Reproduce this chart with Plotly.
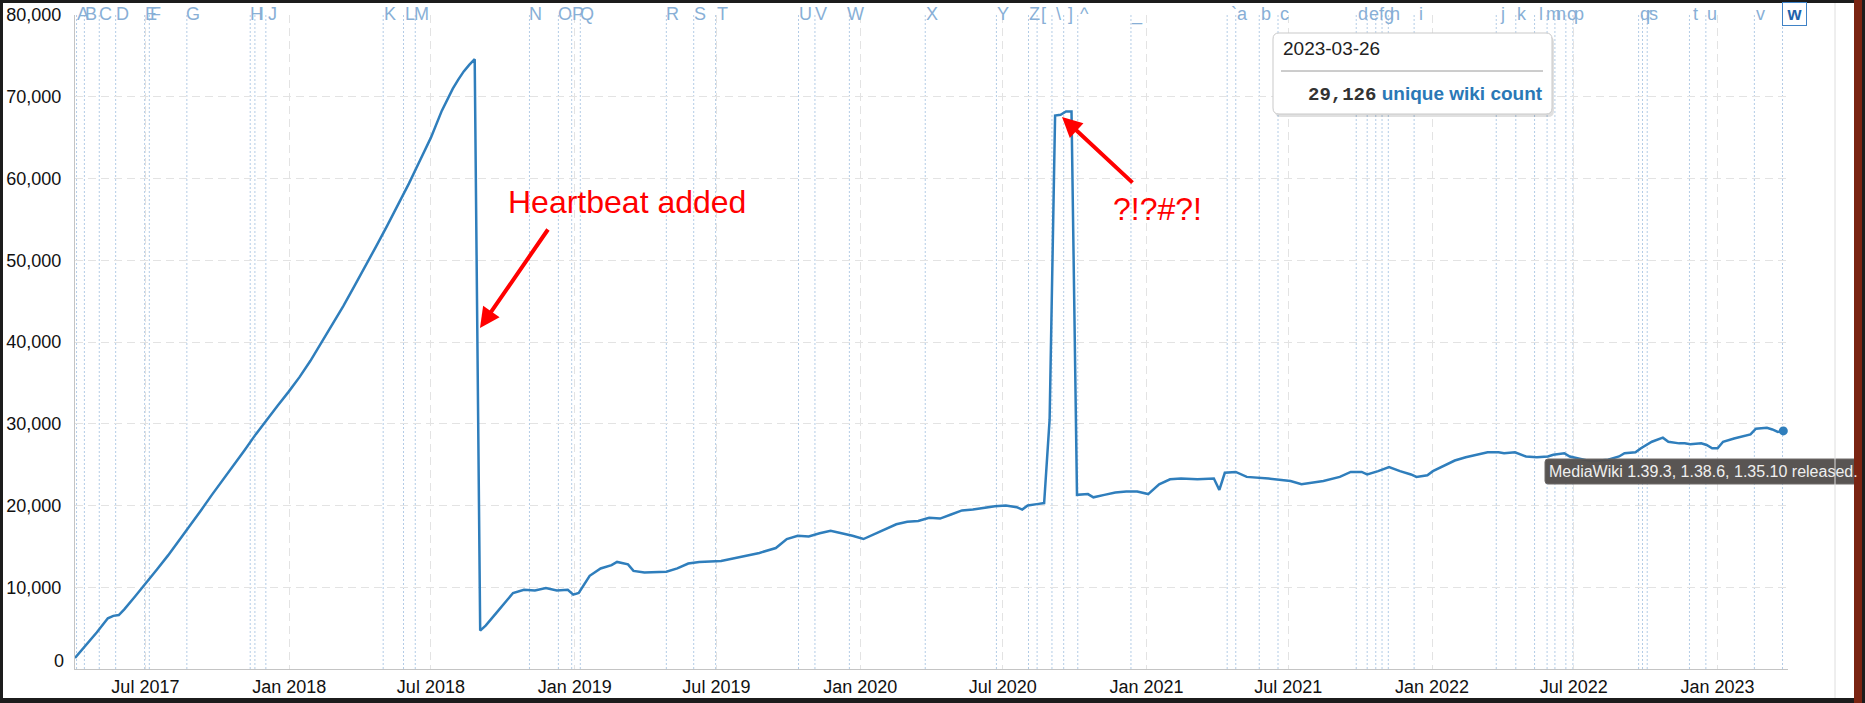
import plotly.graph_objects as go

# weekly unique wiki count
dates = [
    "2017-04-02", "2017-04-16", "2017-04-30", "2017-05-14", "2017-05-21", "2017-05-28",
    "2017-06-04", "2017-06-18", "2017-07-02", "2017-07-16", "2017-07-30", "2017-08-13",
    "2017-08-27", "2017-09-10", "2017-09-24", "2017-10-08", "2017-10-22", "2017-11-05",
    "2017-11-19", "2017-12-03", "2017-12-17", "2017-12-31", "2018-01-14", "2018-01-28",
    "2018-02-11", "2018-02-25", "2018-03-11", "2018-03-25", "2018-04-08", "2018-04-22",
    "2018-05-06", "2018-05-20", "2018-06-03", "2018-06-17", "2018-07-01", "2018-07-15",
    "2018-07-29", "2018-08-05", "2018-08-12", "2018-08-19", "2018-08-26",
    "2018-09-02", "2018-09-09", "2018-09-23", "2018-10-07", "2018-10-14", "2018-10-28",
    "2018-11-11", "2018-11-25", "2018-12-09", "2018-12-23", "2018-12-30", "2019-01-06",
    "2019-01-20", "2019-02-03", "2019-02-17", "2019-02-24", "2019-03-10", "2019-03-17",
    "2019-03-31", "2019-04-28", "2019-05-12", "2019-05-26", "2019-06-09", "2019-07-07",
    "2019-07-28", "2019-08-25", "2019-09-15", "2019-09-29", "2019-10-13", "2019-10-27",
    "2019-11-10", "2019-11-24", "2019-12-08", "2019-12-22", "2020-01-05", "2020-01-19",
    "2020-02-02", "2020-02-16", "2020-03-01", "2020-03-15", "2020-03-29", "2020-04-12",
    "2020-04-26", "2020-05-10", "2020-05-24", "2020-06-07", "2020-06-21", "2020-07-05",
    "2020-07-19", "2020-07-26", "2020-08-02", "2020-08-16", "2020-08-23", "2020-08-30",
    "2020-09-06", "2020-09-13", "2020-09-20", "2020-09-27", "2020-10-04", "2020-10-18",
    "2020-10-25", "2020-11-08", "2020-11-22", "2020-12-06", "2020-12-20", "2021-01-03",
    "2021-01-17", "2021-01-31", "2021-02-14", "2021-03-07", "2021-03-28", "2021-04-04",
    "2021-04-11", "2021-04-25", "2021-05-09", "2021-06-06", "2021-07-04", "2021-07-18",
    "2021-08-15", "2021-09-05", "2021-09-19", "2021-10-03", "2021-10-10", "2021-10-24",
    "2021-11-07", "2021-11-21", "2021-12-05", "2021-12-12", "2021-12-26", "2022-01-02",
    "2022-01-16", "2022-01-30", "2022-02-13", "2022-02-27", "2022-03-13", "2022-03-27",
    "2022-04-03", "2022-04-17", "2022-05-01", "2022-05-15", "2022-05-29", "2022-06-05",
    "2022-06-19", "2022-06-26", "2022-07-10", "2022-07-24", "2022-08-14", "2022-08-28",
    "2022-09-04", "2022-09-18", "2022-09-25", "2022-10-02", "2022-10-09", "2022-10-23",
    "2022-10-30", "2022-11-13", "2022-11-20", "2022-11-27", "2022-12-11", "2022-12-18",
    "2022-12-25", "2023-01-01", "2023-01-08", "2023-01-22", "2023-02-05", "2023-02-12",
    "2023-02-19", "2023-03-05", "2023-03-12", "2023-03-19", "2023-03-26",
]
wikis = [
    1350, 2900, 4500, 6200, 6500, 6600,
    7300, 8900, 10500, 12200, 13900, 15700,
    17500, 19400, 21300, 23100, 24900, 26800,
    28700, 30500, 32200, 33900, 35700, 37700,
    39900, 42100, 44400, 46800, 49200, 51700,
    54200, 56800, 59400, 62200, 65000, 68300,
    71000, 72100, 73100, 73900, 74600,
    4700, 5300, 6900, 8500, 9300, 9700,
    9600, 9900, 9600, 9700, 9100, 9300,
    11400, 12300, 12700, 13100, 12800, 12000,
    11800, 11900, 12300, 12900, 13100, 13200,
    13600, 14200, 14800, 15900, 16300, 16200,
    16600, 16900, 16600, 16300, 15900, 16500,
    17200, 17700, 18000, 18100, 18500, 18400,
    18900, 19400, 19500, 19700, 19900, 20000,
    19800, 19500, 20000, 20200, 20300, 30500,
    67700, 67800, 68200, 68200, 21300, 21400,
    21000, 21300, 21600, 21700, 21700, 21400,
    22600, 23200, 23300, 23200, 23300, 21900,
    24000, 24100, 23500, 23300, 23000, 22600,
    23000, 23500, 24100, 24100, 23800, 24200,
    24700, 24200, 23800, 23500, 23700, 24200,
    24900, 25500, 25900, 26200, 26500, 26500,
    26400, 26500, 26000, 25900, 26000, 26200,
    26400, 26000, 25700, 25400, 25600, 26000,
    26400, 26500, 27000, 27400, 27800, 28300,
    27800, 27600, 27600, 27500, 27600, 27400,
    27000, 27000, 27800, 28200, 28500, 28700,
    29400, 29500, 29300, 29000, 29126,
]

# release annotations along the top
note_letters = list("ABCDEFGHIJKLMNOPQRSTUVWXYZ[\\]^_`abcdefghijklmnopqrstuvw")
note_dates = [
    "2017-04-04", "2017-04-14", "2017-05-03", "2017-05-24", "2017-06-30", "2017-07-06",
    "2017-08-23", "2017-11-12", "2017-11-18", "2017-12-02", "2018-05-01", "2018-05-27",
    "2018-06-11", "2018-11-04", "2018-12-11", "2018-12-28", "2019-01-08", "2019-04-28",
    "2019-06-02", "2019-06-30", "2019-10-14", "2019-11-04", "2019-12-18", "2020-03-24",
    "2020-06-23", "2020-08-03", "2020-08-14", "2020-09-02", "2020-09-17", "2020-10-05",
    "2020-12-12", "2021-04-14", "2021-04-25", "2021-05-25", "2021-06-18", "2021-09-26",
    "2021-10-10", "2021-10-21", "2021-10-29", "2021-11-06", "2021-12-09", "2022-03-24",
    "2022-04-18", "2022-05-12", "2022-05-28", "2022-06-07", "2022-06-21", "2022-06-30",
    "2022-09-22", "2022-09-27", "2022-10-03", "2022-11-26", "2022-12-17", "2023-02-17",
    "2023-03-25",
]

y_ticks = [10000, 20000, 30000, 40000, 50000, 60000, 70000, 80000]

FONT = "Liberation Sans, Arial, Helvetica, sans-serif"
LINE_BLUE = "#2f7ebc"

W, H = 1865, 703
L, R, T, B = 75, 77, 15, 34
PW = W - L - R
PH = H - T - B


# pixel -> paper helpers for the screenshot decorations
def xp(px):
    return (px - L) / PW


def yp(py):
    return (H - B - py) / PH


def rounded(x0, y0, x1, y1, r):
    return (f"M{xp(x0 + r)},{yp(y0)} L{xp(x1 - r)},{yp(y0)} Q{xp(x1)},{yp(y0)} {xp(x1)},{yp(y0 + r)} "
            f"L{xp(x1)},{yp(y1 - r)} Q{xp(x1)},{yp(y1)} {xp(x1 - r)},{yp(y1)} "
            f"L{xp(x0 + r)},{yp(y1)} Q{xp(x0)},{yp(y1)} {xp(x0)},{yp(y1 - r)} "
            f"L{xp(x0)},{yp(y0 + r)} Q{xp(x0)},{yp(y0)} {xp(x0 + r)},{yp(y0)} Z")


fig = go.Figure()
fig.add_trace(go.Scatter(x=dates, y=wikis, mode="lines",
                         line=dict(color=LINE_BLUE, width=2.5), hoverinfo="skip"))
fig.add_trace(go.Scatter(x=[dates[-1]], y=[wikis[-1]], mode="markers",
                         marker=dict(color=LINE_BLUE, size=9), hoverinfo="skip"))

shapes = []
annotations = []

# dotted annotation lines + letters
for d, letter in zip(note_dates, note_letters):
    shapes.append(dict(type="line", xref="x", yref="paper", x0=d, x1=d, y0=0, y1=1,
                       line=dict(color="#b3cce6", width=1, dash="2px,2px"), layer="below"))
    if letter == "w":
        annotations.append(dict(x=d, y=1, xref="x", yref="paper", text="<b>w</b>",
                                showarrow=False, xanchor="center", yanchor="middle",
                                xshift=11.5, yshift=1, width=21, height=20,
                                bgcolor="white", bordercolor="#3f82c6", borderwidth=1,
                                font=dict(family=FONT, size=18, color="#1f63aa")))
    else:
        annotations.append(dict(x=d, y=1, xref="x", yref="paper", text=letter,
                                showarrow=False, xanchor="center", yanchor="middle",
                                xshift=6.5, yshift=1,
                                font=dict(family=FONT, size=18, color="#88afd6")))

# the zero label sits a little above the axis, as in the original
annotations.append(dict(x=0, y=0, xref="paper", yref="y", text="0", showarrow=False,
                        xanchor="right", yanchor="middle", xshift=-9, yshift=8,
                        font=dict(family=FONT, size=18, color="#111")))

# hover legend box
shapes.append(dict(type="path", xref="paper", yref="paper", path=rounded(1275, 36, 1554, 117, 6),
                   fillcolor="rgba(0,0,0,0.12)", line=dict(width=0)))
shapes.append(dict(type="path", xref="paper", yref="paper", path=rounded(1273, 33, 1552, 114, 6),
                   fillcolor="white", line=dict(color="#c9c9c9", width=1)))
shapes.append(dict(type="line", xref="paper", yref="paper", x0=xp(1281), x1=xp(1543),
                   y0=yp(71), y1=yp(71), line=dict(color="#9a9a9a", width=1)))
annotations.append(dict(x=xp(1281), y=yp(49), xref="paper", yref="paper", text="2023-03-26",
                        showarrow=False, xanchor="left", yanchor="middle",
                        font=dict(family=FONT, size=19, color="#222")))
annotations.append(dict(x=xp(1545), y=yp(94), xref="paper", yref="paper",
                        text=("<b><span style='font-family:Liberation Mono, Courier New, monospace;"
                              f"color:#333'>{wikis[-1]:,}</span> unique wiki count</b>"),
                        showarrow=False, xanchor="right", yanchor="middle",
                        font=dict(family=FONT, size=19, color="#2a78b6")))

# red callouts
annotations.append(dict(x=xp(627), y=yp(202), xref="paper", yref="paper", text="Heartbeat added",
                        showarrow=False, xanchor="center", yanchor="middle",
                        font=dict(family=FONT, size=32, color="#ff0000")))
annotations.append(dict(x=xp(480), y=yp(328), xref="paper", yref="paper", text="",
                        showarrow=True, ax=69, ay=-100, arrowhead=2, arrowsize=1,
                        arrowwidth=4, arrowcolor="#ff0000"))
annotations.append(dict(x=xp(1157), y=yp(209), xref="paper", yref="paper", text="?!?#?!",
                        showarrow=False, xanchor="center", yanchor="middle",
                        font=dict(family=FONT, size=32, color="#ff0000")))
annotations.append(dict(x=xp(1062), y=yp(117), xref="paper", yref="paper", text="",
                        showarrow=True, ax=72, ay=67, arrowhead=2, arrowsize=1,
                        arrowwidth=4, arrowcolor="#ff0000"))

# browser title tooltip
shapes.append(dict(type="path", xref="paper", yref="paper", path=rounded(1545, 459, 1861, 484, 3),
                   fillcolor="rgba(82,78,76,0.96)", line=dict(color="#6e6a68", width=1)))
annotations.append(dict(x=xp(1703), y=yp(471.5), xref="paper", yref="paper",
                        text="MediaWiki 1.39.3, 1.38.6, 1.35.10 released.",
                        showarrow=False, xanchor="center", yanchor="middle",
                        font=dict(family=FONT, size=16, color="#efefef")))

# screenshot window frame
for x0, x1, y0, y1, col in [
    (0, W, 0, 3, "#1c1c1c"),
    (0, 3, 0, H, "#1c1c1c"),
    (0, W, 698, H, "#1c1c1c"),
    (1854, 1862, 0, H, "#7a2412"),
    (1862, W, 0, H, "#1c1c1c"),
]:
    shapes.append(dict(type="rect", xref="paper", yref="paper", x0=xp(x0), x1=xp(x1),
                       y0=yp(y1), y1=yp(y0), fillcolor=col, line=dict(width=0)))
shapes.append(dict(type="line", xref="paper", yref="paper", x0=xp(1835), x1=xp(1835),
                   y0=yp(698), y1=yp(3), line=dict(color="#dedede", width=1)))

fig.update_layout(
    width=W, height=H, autosize=False,
    margin=dict(l=L, r=R, t=T, b=B, pad=0, autoexpand=False),
    paper_bgcolor="white", plot_bgcolor="white",
    showlegend=False,
    font=dict(family=FONT, size=18, color="#111"),
    shapes=shapes, annotations=annotations,
    xaxis=dict(type="date", range=["2017-04-02", "2023-04-01"], automargin=False,
               tick0="2017-07-01", dtick="M6", tickformat="%b %Y",
               showgrid=True, gridcolor="#e3e3e3", griddash="8px,5px", gridwidth=1,
               showline=True, linecolor="#c4c4c4", linewidth=1,
               ticks="", ticklabelstandoff=1, zeroline=False,
               tickfont=dict(family=FONT, size=18, color="#111")),
    yaxis=dict(range=[0, 80000], tickvals=y_ticks, tickformat=",", automargin=False,
               showgrid=True, gridcolor="#e3e3e3", griddash="8px,5px", gridwidth=1,
               showline=True, linecolor="#c4c4c4", linewidth=1,
               ticks="", ticklabelstandoff=9, zeroline=False,
               tickfont=dict(family=FONT, size=18, color="#111")),
)

# drop the default page margin so the 1865x703 figure fills the window exactly
fig.write_html("out.html", config={"displayModeBar": False, "staticPlot": True},
               post_script="document.body.style.margin='0';document.body.style.overflow='hidden';")
